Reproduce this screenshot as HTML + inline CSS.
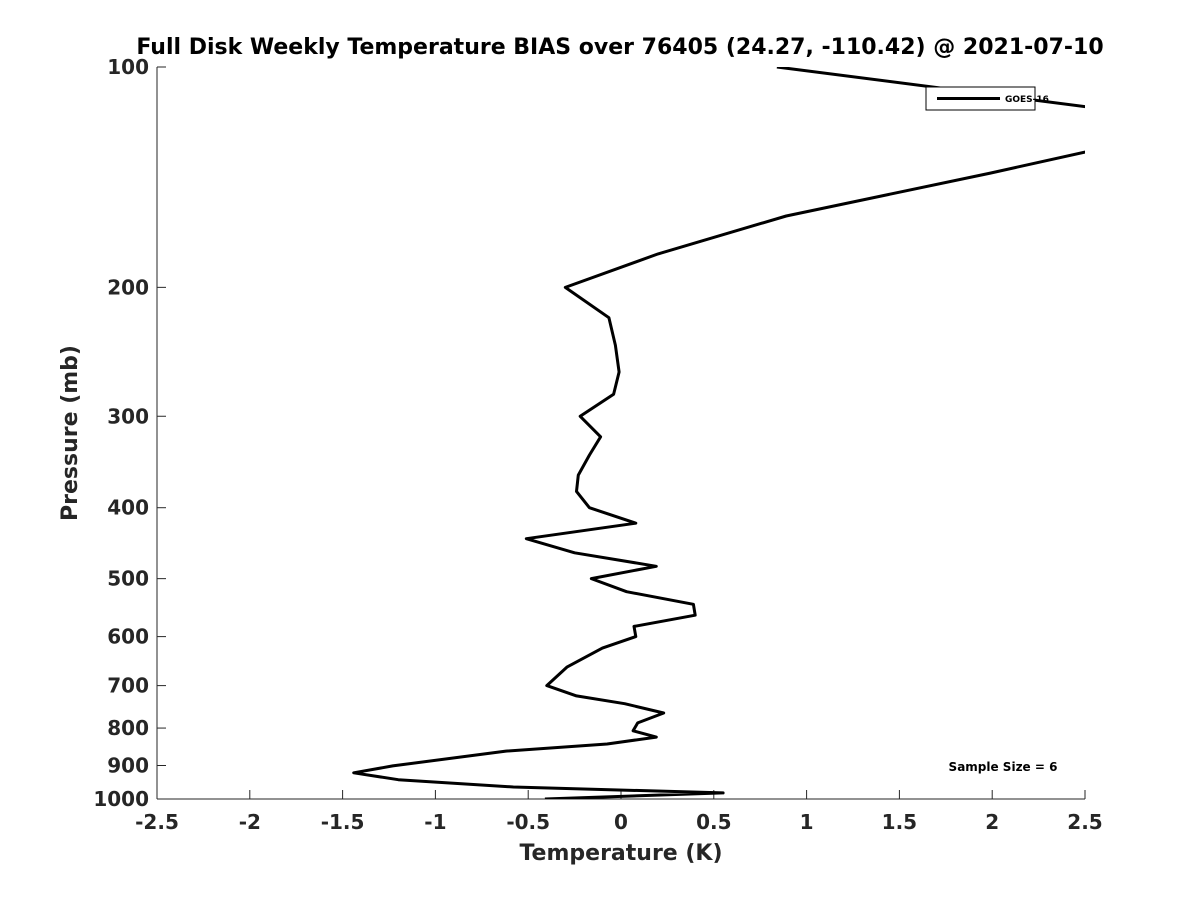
<!DOCTYPE html>
<html><head><meta charset="utf-8"><style>
body{margin:0;background:#fff;}
svg text{font-family:"DejaVu Sans","Liberation Sans",sans-serif;font-weight:bold;fill:#262626;}
</style></head><body>
<svg width="1200" height="900" xmlns="http://www.w3.org/2000/svg">
<defs><clipPath id="plotclip"><rect x="157" y="67" width="928" height="732"/></clipPath></defs>
<text x="620" y="54" text-anchor="middle" font-size="22" style="fill:#000">Full Disk Weekly Temperature BIAS over 76405 (24.27, -110.42) @ 2021-07-10</text>
<g id="axes"></g>
<path id="series" fill="none" stroke="#000" stroke-width="3" stroke-linejoin="round" clip-path="url(#plotclip)"/>
<g>
<rect x="926" y="87" width="109" height="23" fill="#fff" stroke="#000" stroke-width="1"/>
<line x1="937" y1="98.5" x2="1000" y2="98.5" stroke="#000" stroke-width="3"/>
<text x="1005" y="102" font-size="9" style="fill:#000">GOES-16</text>
</g>
<text x="1003" y="771" text-anchor="middle" font-size="12" style="fill:#000">Sample Size = 6</text>
<text x="621" y="860" text-anchor="middle" font-size="22">Temperature (K)</text>
<text transform="translate(77,433) rotate(-90)" text-anchor="middle" font-size="22">Pressure (mb)</text>
</svg>
<script>
const temps=[0.84,2.7,2.7,2.5,1.99,0.89,0.2,-0.3,-0.065,-0.03,-0.01,-0.04,-0.22,-0.11,-0.17,-0.23,-0.24,-0.17,0.08,-0.51,-0.25,0.19,-0.16,0.03,0.39,0.40,0.07,0.08,-0.1,-0.29,-0.40,-0.24,0.02,0.23,0.09,0.065,0.19,-0.075,-0.62,-1.23,-1.44,-1.2,-0.58,0.55,-0.41];
const pressures=[100,115,128,130.7,139.6,159.8,180,200,220,240,261,280,300,320,339,361,380,400,420,441,461,481,500,521,542,561,581,600,622,660,700,723,741,763,787,807,823,841,860,901,921,941,963,981,1000];
const xTicks=[-2.5,-2,-1.5,-1,-0.5,0,0.5,1,1.5,2,2.5];
const yTicks=[100,200,300,400,500,600,700,800,900,1000];
const X0=157,X1=1085,Y0=67,Y1=799;
const xs=v=>X0+(v+2.5)/5*(X1-X0);
const ys=p=>Y0+(Math.log10(p)-2)*(Y1-Y0);
const NS="http://www.w3.org/2000/svg";
const ax=document.getElementById('axes');
function mk(t,a){const e=document.createElementNS(NS,t);for(const k in a)e.setAttribute(k,a[k]);ax.appendChild(e);return e;}
let e=mk('line',{x1:X0,y1:Y1,x2:X1,y2:Y1,stroke:'#262626','stroke-width':1});


e=mk('line',{x1:X0,y1:Y0,x2:X0,y2:Y1,stroke:'#262626','stroke-width':1});


xTicks.forEach(v=>{
 const x=xs(v);
 let t=mk('line',{x1:x,y1:Y1,x2:x,y2:Y1-9,stroke:'#262626'});
 
 
 let l=mk('text',{x:x,y:829,'text-anchor':'middle','font-size':20});
 l.textContent=String(v);
 
 
});
yTicks.forEach(p=>{
 const y=ys(p);
 let t=mk('line',{x1:X0,y1:y,x2:X0+9,y2:y,stroke:'#262626'});
 
 
 let l=mk('text',{x:X0-8,y:y+7,'text-anchor':'end','font-size':20});
 l.textContent=String(p);
 
 
});
document.getElementById('series').setAttribute('d',temps.map((t,i)=>(i?'L':'M')+xs(t).toFixed(1)+','+ys(pressures[i]).toFixed(1)).join(''));
</script>
</body></html>
